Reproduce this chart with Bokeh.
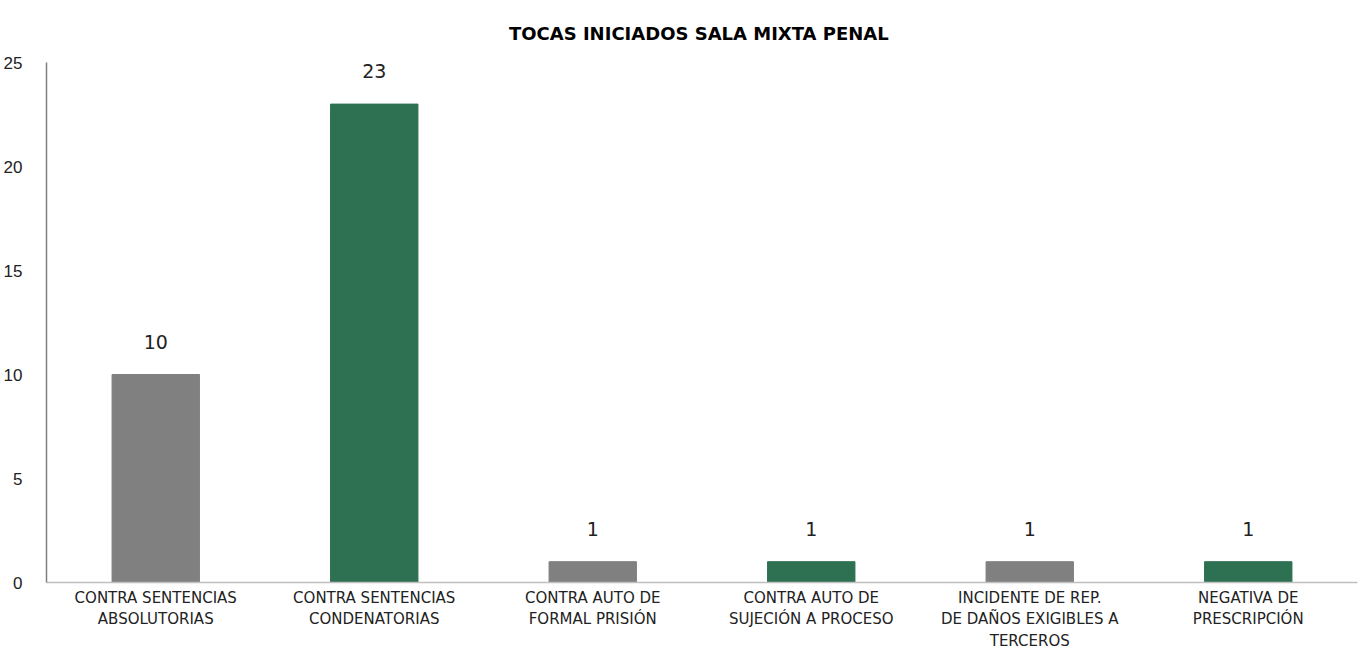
from bokeh.plotting import figure
from bokeh.models import ColumnDataSource, FixedTicker, Range1d
from bokeh.embed import file_html
from bokeh.resources import INLINE
from bokeh.core.properties import value

categories = [
    "CONTRA SENTENCIAS\nABSOLUTORIAS",
    "CONTRA SENTENCIAS\nCONDENATORIAS",
    "CONTRA AUTO DE\nFORMAL PRISIÓN",
    "CONTRA AUTO DE\nSUJECIÓN A PROCESO",
    "INCIDENTE DE REP.\nDE DAÑOS EXIGIBLES A\nTERCEROS",
    "NEGATIVA DE\nPRESCRIPCIÓN",
]
values = [10, 23, 1, 1, 1, 1]
colors = ["#808080", "#2E7152", "#808080", "#2E7152", "#808080", "#2E7152"]
y_ticks = [0, 5, 10, 15, 20, 25]
title_text = "TOCAS INICIADOS  SALA MIXTA PENAL"

src = ColumnDataSource(dict(cat=categories, val=values, color=colors,
                            lbl=[str(v) for v in values]))

p = figure(x_range=categories, y_range=Range1d(0, 25),
           width=1359, height=652, output_backend="svg", toolbar_location=None,
           min_border_left=39, min_border_right=2, min_border_top=62,
           min_border_bottom=0)

p.title.text = title_text
p.title.align = "center"
p.title.vertical_align = "top"
p.title.offset = -13
p.title.text_font = "DejaVu Sans"
p.title.text_font_size = "18px"
p.title.text_font_style = "bold"
p.title.text_color = "#000000"
p.title.standoff = 34

p.vbar(x="cat", top="val", width=0.4, color="color", source=src)
p.text(x="cat", y="val", text="lbl", source=src, text_align="center",
       text_baseline="middle", y_offset=-33, text_font_size="19px",
       text_font=value("DejaVu Sans"), text_color="#222222")

p.xgrid.visible = False
p.ygrid.visible = False
p.outline_line_color = None

p.yaxis.ticker = FixedTicker(ticks=y_ticks)
p.yaxis.major_tick_line_color = None
p.yaxis.minor_tick_line_color = None
p.yaxis.axis_line_color = "#7f7f7f"
p.yaxis.axis_line_width = 1.5
p.yaxis.major_label_text_font = "Liberation Sans"
p.yaxis.major_label_text_font_size = "17px"
p.yaxis.major_label_text_color = "#222222"
p.yaxis.major_label_standoff = 18

p.xaxis.major_tick_line_color = None
p.xaxis.minor_tick_line_color = None
p.xaxis.axis_line_color = "#bfbfbf"
p.xaxis.axis_line_width = 1.5
p.xaxis.major_label_text_font = "DejaVu Sans"
p.xaxis.major_label_text_font_size = "15px"
p.xaxis.major_label_text_color = "#222222"
p.xaxis.major_label_standoff = 0

open("out.html", "w").write(file_html(p, INLINE))
